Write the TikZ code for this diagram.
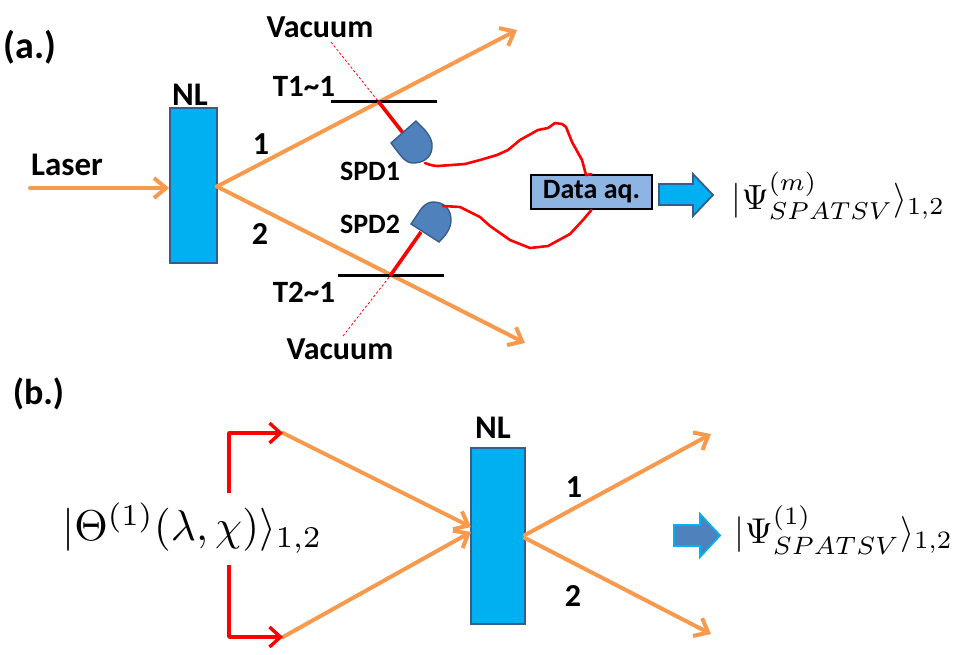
\documentclass[tikz,border=0pt]{standalone}
\usepackage{fontspec}
\usepackage{graphicx}
\setmainfont{Carlito}
\usetikzlibrary{arrows.meta}
\definecolor{beam}{HTML}{F79A4E}
\definecolor{crystal}{HTML}{00B0F0}
\definecolor{detector}{HTML}{4F81BD}
\definecolor{detline}{HTML}{385D8A}
\definecolor{databox}{HTML}{8EB4E3}
\tikzset{
  x=1pt,y=-1pt,
  lbl/.style={font=\bfseries\fontsize{#1}{#1}\selectfont,inner sep=0pt},
  lbl/.default=32,
  nlbox/.style={draw=detline,line width=1.8pt,fill=crystal},
  beamline/.style={draw=beam,line width=4pt,line cap=round,-{Straight Barb[length=12pt,width=20pt,line width=4pt]}},
  mirror/.style={draw=black,line width=3pt},
  vac/.style={draw=red,line width=.8pt,dash pattern=on 2.5pt off 2pt},
  spdray/.style={draw=red,line width=3.6pt},
  wire/.style={draw=red,line width=2.6pt,line join=round,line cap=round},
  spd/.style={draw=detline,line width=1.4pt,fill=detector},
  feed/.style={draw=red,line width=3.6pt,line join=round,-{Straight Barb[length=11pt,width=20pt,line width=3.4pt]}},
  formula/.style={inner sep=0pt},
}
\newcommand{\sized}[2]{\resizebox{#1pt}{!}{$#2$}}
\begin{document}
\begin{tikzpicture}
\useasboundingbox (0,0) rectangle (955,654);

% Panel (a.): pump, crystal and down-converted beams
\node[nlbox,minimum width=47pt,minimum height=155pt,inner sep=0pt] (nla) at (193.5,185.5) {};
\coordinate (laserin) at (30,188);
\coordinate (beamorigin) at (217,186.5);
\coordinate (beam1end) at (517,30);
\coordinate (beam2end) at (525,343);
\draw[beamline] (laserin) -- (nla.west |- laserin);
\draw[beamline] (beamorigin) -- (beam1end);
\draw[beamline] (beamorigin) -- (beam2end);

% Tap-off plates and vacuum inputs
\coordinate (t1l) at (331,101); \coordinate (t1r) at (437,101); \coordinate (t1c) at (378,101);
\coordinate (t2l) at (338,275); \coordinate (t2r) at (444,275); \coordinate (t2c) at (390,276);
\coordinate (vac1) at (331,42); \coordinate (vac2) at (343,336);
\draw[vac] (vac1) -- (t1c);
\draw[vac] (vac2) -- (t2c);
\draw[mirror] (t1l) -- (t1r);
\draw[mirror] (t2l) -- (t2r);

% Single-photon detectors
\coordinate (spd1in) at (403,133);
\coordinate (spd2in) at (421,232);
\draw[spdray] (t1c) -- (spd1in);
\draw[spdray] (t2c) -- (spd2in);
\draw[spd] (391,143) -- (416,121) -- (424,129) .. controls (430,136) and (433,142) .. (432,148)
  .. controls (431,158) and (423,163) .. (413,163) .. controls (405,163) and (401,156) .. (391,143) -- cycle;
\draw[spd] (411,224) -- (421,209) .. controls (425,204) and (429,202) .. (433,202)
  .. controls (445,202) and (451,210) .. (451,220) .. controls (451,229) and (445,236) .. (439,242) -- cycle;

% Acquisition box and the cables running to it
\node[draw=black,line width=1.8pt,fill=databox,minimum width=121pt,minimum height=34pt,inner sep=0pt] (daq) at (591.5,192) {};
\node[lbl=28] at (daq.center) {Data aq.};
\draw[wire] (425,163) .. controls (430,165) and (434,166) .. (438,166) -- (465,164) -- (480,160) -- (497,155) -- (508,150)
  -- (520,140) -- (538,130) -- (548,128) -- (555,123) -- (562,124) -- (566,127) -- (572,142) -- (582,160) -- (586,175) -- (daq.north);
\draw[wire] (443,206) -- (460,207) -- (480,217) -- (490,226) -- (510,240) -- (530,248) -- (548,246) -- (570,234) -- (583,220) -- (daq.south);

% Output arrow and heralded state
\draw[draw=detline,line width=1.8pt,fill=crystal] (659,184) -- (693,184) -- (693,174) -- (713,195) -- (693,216) -- (693,205) -- (659,205) -- cycle;
\node[formula] (psim) at (838.5,196) {\sized{213}{|\Psi^{(m)}_{SPATSV}\rangle_{1,2}}};

% Panel (a.) labels
\node[lbl=38] at (30,47) {(a.)};
\node[lbl=33] at (190,95) {NL};
\node[lbl=33] at (67,165) {Laser};
\node[lbl=32] at (261,144) {1};
\node[lbl=32] at (260,234) {2};
\node[lbl=31] at (304,86) {T1\textasciitilde1};
\node[lbl=31] at (304,292) {T2\textasciitilde1};
\node[lbl=32] at (320,27) {Vacuum};
\node[lbl=32] at (340,349) {Vacuum};
\node[lbl=28] at (370,171) {SPD1};
\node[lbl=28] at (370,224) {SPD2};

% Panel (b.): seeded crystal
\node[nlbox,minimum width=54pt,minimum height=176pt,inner sep=0pt] (nlb) at (498,536) {};
\coordinate (seed1) at (283,433); \coordinate (seed2) at (283,637);
\coordinate (hit1) at (471,527); \coordinate (hit2) at (471,532);
\coordinate (out1) at (525,535); \coordinate (out2) at (525,538);
\coordinate (end1) at (711,434); \coordinate (end2) at (711,634);
\draw[beamline] (seed1) -- (hit1);
\draw[beamline] (seed2) -- (hit2);
\draw[beamline] (out1) -- (end1);
\draw[beamline] (out2) -- (end2);

% Seed state feeding both input modes
\node[formula] (theta) at (192.5,528) {\sized{260}{|\Theta^{(1)}(\lambda,\chi)\rangle_{1,2}}};
\coordinate (feedtop) at (229,493); \coordinate (feedbot) at (229,565);
\draw[feed] (feedtop) |- (seed1);
\draw[feed] (feedbot) |- (seed2);

% Output arrow and resulting state
\draw[draw=crystal,line width=1.8pt,fill=detector] (674,525) -- (700,525) -- (700,514) -- (720,535.5) -- (700,557) -- (700,546) -- (674,546) -- cycle;
\node[formula] (psi1) at (844,530) {\sized{218}{|\Psi^{(1)}_{SPATSV}\rangle_{1,2}}};

% Panel (b.) labels
\node[lbl=36] at (38.5,394) {(b.)};
\node[lbl=33] at (493,428) {NL};
\node[lbl=32] at (574,487) {1};
\node[lbl=32] at (573,596) {2};
\end{tikzpicture}
\end{document}
